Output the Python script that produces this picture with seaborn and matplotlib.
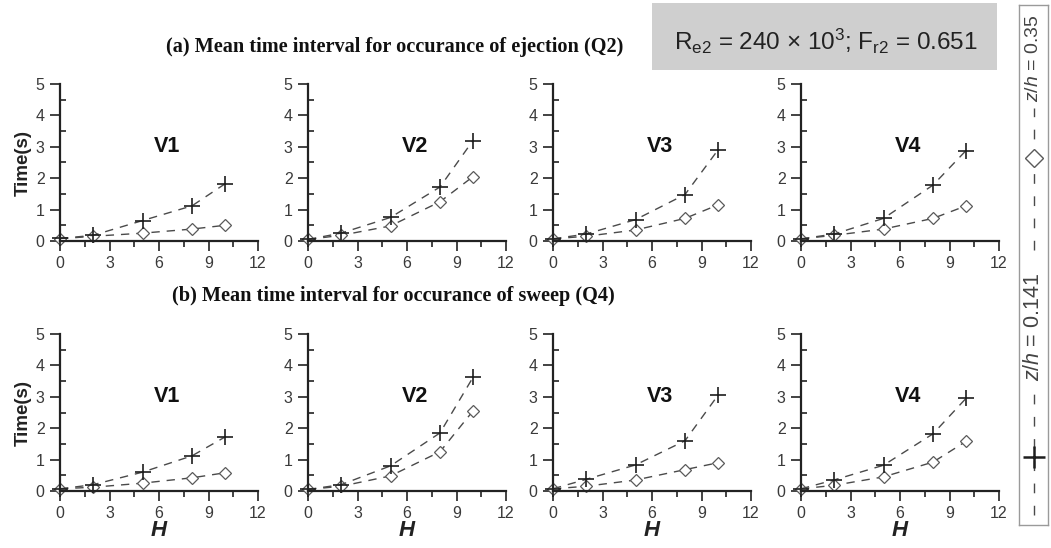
import numpy as np
import pandas as pd
import matplotlib
matplotlib.use("Agg")
import matplotlib.pyplot as plt
import seaborn as sns
from matplotlib.patches import Rectangle
from matplotlib.ticker import MultipleLocator

# ---------------- data ----------------
H = [0, 2, 5, 8, 10]
panels = ["V1", "V2", "V3", "V4"]

# (a) ejection (Q2)
q2_z0141 = {
    "V1": [0.08, 0.18, 0.65, 1.12, 1.82],
    "V2": [0.05, 0.25, 0.75, 1.72, 3.20],
    "V3": [0.07, 0.22, 0.68, 1.48, 2.90],
    "V4": [0.07, 0.22, 0.72, 1.78, 2.88],
}
q2_z035 = {
    "V1": [0.07, 0.15, 0.25, 0.38, 0.50],
    "V2": [0.05, 0.18, 0.48, 1.25, 2.05],
    "V3": [0.07, 0.15, 0.35, 0.72, 1.15],
    "V4": [0.07, 0.18, 0.38, 0.72, 1.12],
}
# (b) sweep (Q4)
q4_z0141 = {
    "V1": [0.07, 0.20, 0.60, 1.12, 1.72],
    "V2": [0.05, 0.20, 0.80, 1.85, 3.62],
    "V3": [0.07, 0.37, 0.83, 1.60, 3.05],
    "V4": [0.07, 0.35, 0.82, 1.82, 2.95],
}
q4_z035 = {
    "V1": [0.07, 0.12, 0.25, 0.42, 0.58],
    "V2": [0.05, 0.15, 0.48, 1.25, 2.55],
    "V3": [0.07, 0.15, 0.35, 0.68, 0.90],
    "V4": [0.07, 0.18, 0.45, 0.92, 1.58],
}

title_a = "(a) Mean time interval for occurance of ejection (Q2)"
title_b = "(b) Mean time interval for occurance of sweep (Q4)"
x_ticks = [0, 3, 6, 9, 12]
y_ticks = [0, 1, 2, 3, 4, 5]
label_1 = "z/h = 0.141"
label_2 = "z/h = 0.35"

# ---------------- style ----------------
sns.set_style("ticks")
plt.rcParams["font.family"] = ["Liberation Sans", "DejaVu Sans"]
plt.rcParams["mathtext.fontset"] = "custom"
plt.rcParams["mathtext.rm"] = "Liberation Sans"
plt.rcParams["mathtext.it"] = "Liberation Sans:italic"
plt.rcParams["mathtext.bf"] = "Liberation Sans:bold"

W, Hh = 1051, 548
fig = plt.figure(figsize=(W / 100, Hh / 100), dpi=100)
fig.patch.set_facecolor("white")

lefts = [60, 308, 553, 801]
width_px = 198
rows = [(84, 241), (334, 491)]

DASH = (0, (6, 5))
C_LINE = "#4a4a4a"
C_PLUS = "#1e1e1e"
C_DIA = "#5a5a5a"
C_TXT = "#3a3a3a"


def px_axes(x0, y_top, w, y_bot):
    return fig.add_axes([x0 / W, 1 - y_bot / Hh, w / W, (y_bot - y_top) / Hh])


datasets = [(q2_z0141, q2_z035), (q4_z0141, q4_z035)]
for r, (yt, yb) in enumerate(rows):
    d1, d2 = datasets[r]
    for c, name in enumerate(panels):
        ax = px_axes(lefts[c], yt, width_px, yb)
        ax.set_facecolor("none")
        df1 = pd.DataFrame({"H": H, "t": d1[name]})
        df2 = pd.DataFrame({"H": H, "t": d2[name]})
        sns.lineplot(data=df2, x="H", y="t", ax=ax, color=C_LINE, linewidth=1.0,
                     linestyle=DASH, marker="D", markersize=6.5,
                     markerfacecolor="white", markeredgecolor=C_DIA,
                     markeredgewidth=0.9, clip_on=False)
        sns.lineplot(data=df1, x="H", y="t", ax=ax, color=C_LINE, linewidth=1.0,
                     linestyle=DASH, marker="+", markersize=11,
                     markeredgecolor=C_PLUS, markeredgewidth=1.2, clip_on=False)
        ax.set_xlim(0, 12)
        ax.set_ylim(0, 5)
        ax.set_xticks(x_ticks)
        ax.set_yticks(y_ticks)
        ax.xaxis.set_minor_locator(MultipleLocator(1.5))
        ax.yaxis.set_minor_locator(MultipleLocator(0.5))
        ax.tick_params(axis="both", which="major", direction="out", length=7,
                       width=1.2, color="#222222", labelsize=11.5,
                       labelcolor=C_TXT, pad=4)
        ax.tick_params(axis="x", which="minor", direction="out", length=4,
                       width=1.2, color="#222222")
        ax.tick_params(axis="y", which="minor", direction="in", length=4,
                       width=1.2, color="#222222")
        sns.despine(ax=ax)
        for s in ("left", "bottom"):
            ax.spines[s].set_linewidth(1.6)
            ax.spines[s].set_color("#222222")
        ax.text(6.5, 3.0, name, fontsize=15.5, fontweight="bold",
                color="#111111", ha="center", va="center")
        if c == 0:
            ax.set_ylabel("Time(s)", fontsize=13.5, fontweight="bold",
                          color="#222222", labelpad=3)
        else:
            ax.set_ylabel("")
        if r == 1:
            ax.set_xlabel("H", fontsize=16, fontweight="bold", style="italic",
                          color="#222222", labelpad=-1)
        else:
            ax.set_xlabel("")

# titles
fig.text(395 / W, 1 - 47 / Hh, title_a, family=["Liberation Serif"],
         fontweight="bold", fontsize=14.6, ha="center", va="center",
         color="#111111")
fig.text(393 / W, 1 - 296 / Hh, title_b, family=["Liberation Serif"],
         fontweight="bold", fontsize=14.6, ha="center", va="center",
         color="#111111")

# gray info box
fig.patches.append(Rectangle((652 / W, 1 - 70 / Hh), (997 - 652) / W,
                             (70 - 3) / Hh, transform=fig.transFigure,
                             facecolor="#cfcfcf", edgecolor="none"))
fig.text(826 / W, 1 - 41 / Hh,
         r"$\mathregular{R_{e2}}$ = 240 $\times$ 10$^{3}$; $\mathregular{F_{r2}}$ = 0.651",
         fontsize=17.5, ha="center", va="center", color="#222222")

# right-hand vertical legend (box spans pixel y 5..525)
lax = fig.add_axes([1019 / W, 1 - 525 / Hh, 29 / W, 520 / Hh])
lax.set_xlim(0, 1)
lax.set_ylim(525, 5)   # pixel-like coordinates, top = 5
lax.set_xticks([])
lax.set_yticks([])
for s in lax.spines.values():
    s.set_color("#9a9a9a")
    s.set_linewidth(1.0)
LEG_DASH = (0, (7, 9))
lax.plot([0.5, 0.5], [515, 393], color=C_LINE, linestyle=LEG_DASH, lw=1.0)
lax.plot([0.5], [457], marker="+", markersize=16, markeredgewidth=1.8,
         color=C_PLUS, linestyle="none")
lax.text(0.5, 327, r"$\mathit{z/h}$ = 0.141", rotation=90, fontsize=15.5,
         ha="center", va="center", color="#444444")
lax.plot([0.5, 0.5], [250, 108], color=C_LINE, linestyle=LEG_DASH, lw=1.0)
lax.plot([0.5], [158], marker="D", markersize=9, markerfacecolor="white",
         markeredgecolor=C_DIA, markeredgewidth=1.0, linestyle="none")
lax.text(0.5, 58, r"$\mathit{z/h}$ = 0.35", rotation=90, fontsize=14,
         ha="center", va="center", color="#444444")

fig.savefig("out.png", dpi=100)
